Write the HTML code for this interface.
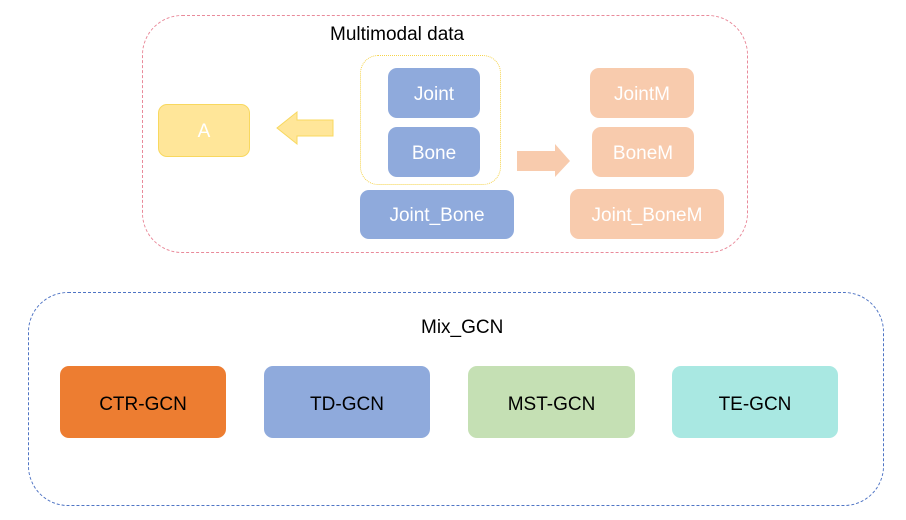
<!DOCTYPE html>
<html><head><style>
body{margin:0;width:906px;height:520px;background:#fff;position:relative;font-family:"Liberation Sans",sans-serif;overflow:hidden}
.b{position:absolute;display:flex;align-items:center;justify-content:center;border-radius:9px;box-sizing:border-box;padding-top:3px}
.w{color:#fff;font-size:19px}
.k{color:#000;font-size:19px;padding-top:6px}
</style></head><body>
<div style="position:absolute;left:142px;top:15px;width:606px;height:238px;border:1.3px dashed #e98a9a;border-radius:40px;box-sizing:border-box"></div>
<div style="position:absolute;left:330px;top:24px;font-size:19px">Multimodal data</div>
<div style="position:absolute;left:360px;top:55px;width:141px;height:130px;border:1.3px dotted #f5d34a;border-radius:18px;box-sizing:border-box"></div>
<div class="b w" style="left:388px;top:68px;width:92px;height:50px;background:#8faadc">Joint</div>
<div class="b w" style="left:388px;top:127px;width:92px;height:50px;background:#8faadc">Bone</div>
<div class="b w" style="left:360px;top:190px;width:154px;height:49px;background:#8faadc">Joint_Bone</div>
<div class="b w" style="left:158px;top:104px;width:92px;height:53px;background:#ffe699;border:1px solid #f8d85f">A</div>
<div class="b w" style="left:590px;top:68px;width:104px;height:50px;background:#f8cbad">JointM</div>
<div class="b w" style="left:592px;top:127px;width:102px;height:50px;background:#f8cbad">BoneM</div>
<div class="b w" style="left:570px;top:189px;width:154px;height:50px;background:#f8cbad">Joint_BoneM</div>
<svg style="position:absolute;left:0;top:0" width="906" height="520">
<polygon points="333,120 297,120 297,112 277,128 297,144 297,136 333,136" fill="#ffe699" stroke="#f8d85f" stroke-width="1"/>
<polygon points="517,151 555,151 555,144 570,161 555,177 555,171 517,171" fill="#f8cbad"/>
</svg>
<div style="position:absolute;left:28px;top:292px;width:856px;height:214px;border:1.3px dashed #4f74c4;border-radius:40px;box-sizing:border-box"></div>
<div style="position:absolute;left:421px;top:317px;font-size:19px">Mix_GCN</div>
<div class="b k" style="left:60px;top:366px;width:166px;height:72px;background:#ed7d31">CTR-GCN</div>
<div class="b k" style="left:264px;top:366px;width:166px;height:72px;background:#8faadc">TD-GCN</div>
<div class="b k" style="left:468px;top:366px;width:167px;height:72px;background:#c5e0b4">MST-GCN</div>
<div class="b k" style="left:672px;top:366px;width:166px;height:72px;background:#a9e8e2">TE-GCN</div>
</body></html>
